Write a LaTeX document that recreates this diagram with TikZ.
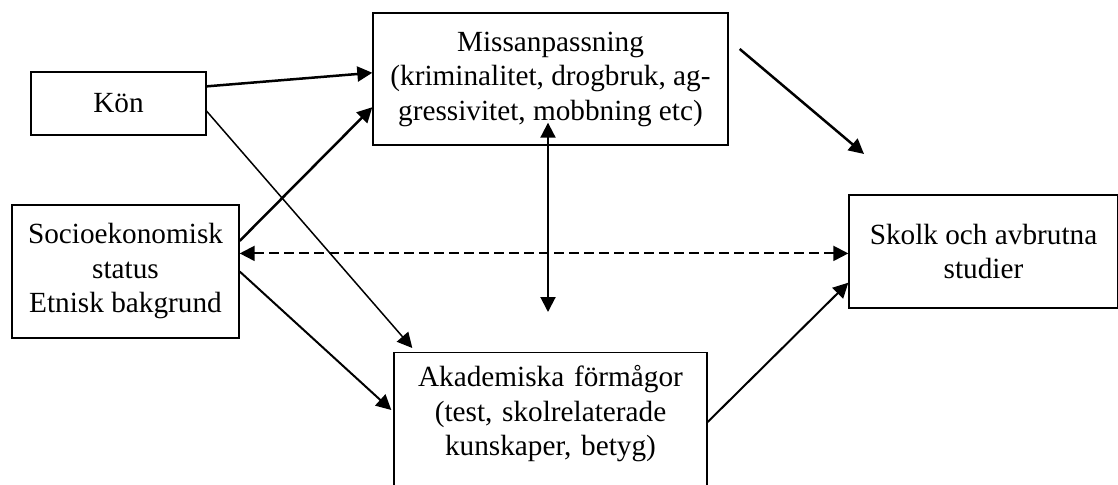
\documentclass[tikz,border=0pt]{standalone}
\usepackage{fontspec}
\setmainfont{Liberation Serif}
\usetikzlibrary{arrows.meta,calc}

\begin{document}
\begin{tikzpicture}[x=0.4pt,y=-0.4pt,>={Triangle[length=6pt,width=6pt]},
   font=\fontsize{11.7}{13.8}\selectfont,
   box/.style={draw, line width=0.55pt, rectangle, align=center, inner sep=2pt},
   heavy/.style={line width=1pt},
   medium/.style={line width=0.8pt},
   light/.style={line width=0.6pt}]
   \useasboundingbox (0,0) rectangle (1118,485);
   \clip (0,0) rectangle (1118,485);

   \node[box, minimum width=70pt, minimum height=25.2pt] (kon) at (118.5,103.5) {Kön};
   \node[box, minimum width=142pt, minimum height=52.8pt] (miss) at (550.5,79)
      {Missanpassning\\(kriminalitet, drogbruk, ag-\\gressivitet, mobbning etc)};
   \node[box, minimum width=90.8pt, minimum height=53.2pt] (socio) at (125.5,271.5)
      {Socioekonomisk\\status\\Etnisk bakgrund};
   \node[box, minimum width=107.6pt, minimum height=45.2pt] (skolk) at (983.5,251.5)
      {Skolk och avbrutna\\studier};
   \node[box, anchor=north, text width=120pt, minimum width=125.2pt,
         text height=8pt, text depth=80pt, inner ysep=5.6pt] (akad) at (550.5,352)
      {Akademiska förmågor\\(test, skolrelaterade\\kunskaper, betyg)};

   \coordinate (mfree) at (864,154);

   \path[->]
    (kon.11)     edge[heavy]  (miss.178)
    (kon.-5)     edge[light]  ($(akad.north west)+(19,-4)$)
    (socio.15)   edge[heavy]  (miss.189)
    (socio.east) edge[medium] ($(akad.north west)+(-2,58)$)
    ($(miss.east)+(11,-30)$)      edge[heavy]  (mfree)
    ($(akad.north east)+(0,70)$)  edge[medium] (skolk.193);
   \draw[<->, medium, dash pattern=on 3.8pt off 2.2pt] (socio.9) -- (socio.9 -| skolk.west);
   \draw[<->, medium] ($(miss.south)+(-2.5,-23)$) -- ($(akad.north)+(-2.5,-40)$);
\end{tikzpicture}
\end{document}
